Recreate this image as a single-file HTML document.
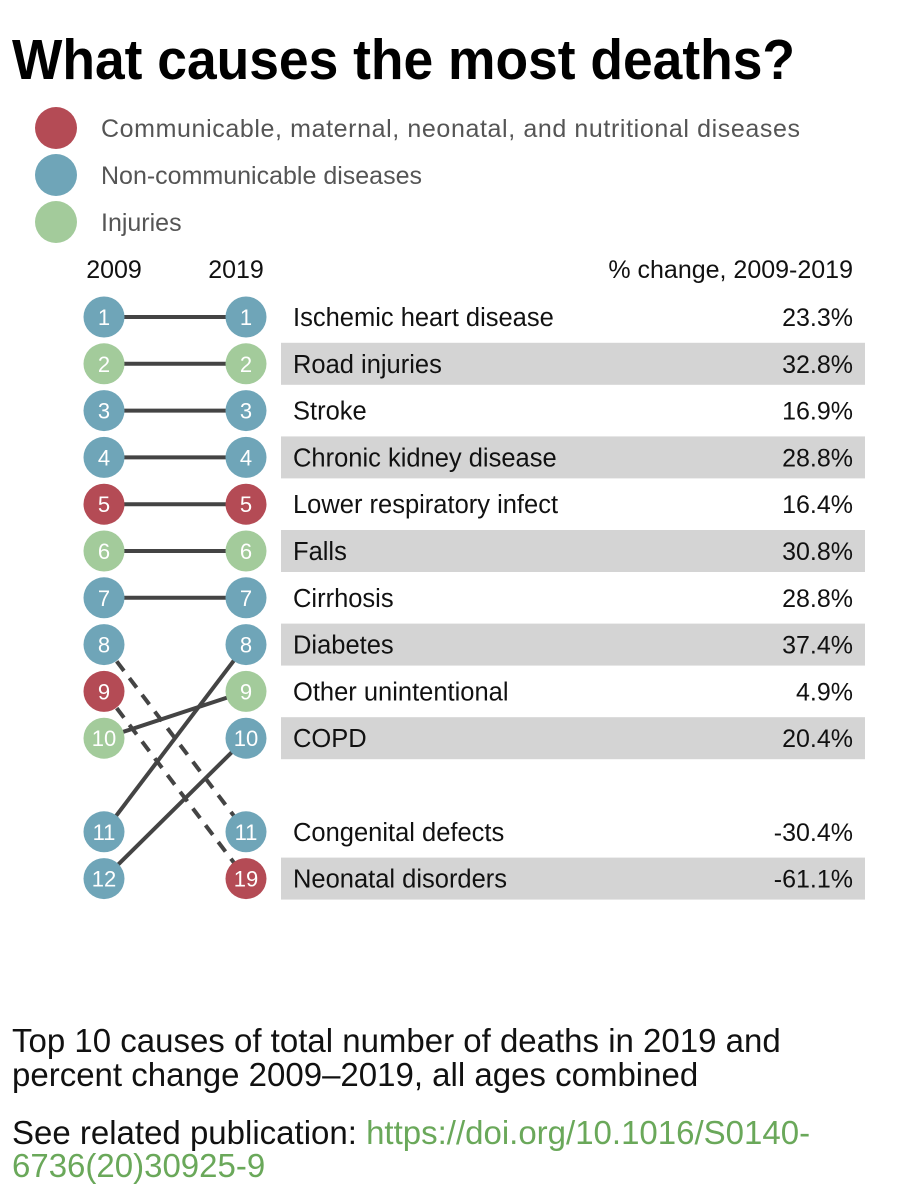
<!DOCTYPE html>
<html><head><meta charset="utf-8"><style>
body{margin:0;background:#fff;}
svg{display:block;font-family:"Liberation Sans",sans-serif;}
</style></head><body>
<svg id="c" width="913" height="1200">
<text x="12" y="79" font-size="57" font-weight="bold" fill="#000" textLength="783" lengthAdjust="spacingAndGlyphs">What causes the most deaths?</text>
<g>
<circle cx="56" cy="128" r="21" fill="#b44b55"/>
<text x="101" y="137" font-size="25" fill="#555" textLength="699">Communicable, maternal, neonatal, and nutritional diseases</text>
<circle cx="56" cy="175" r="21" fill="#6fa5b8"/>
<text x="101" y="184" font-size="25" fill="#555">Non-communicable diseases</text>
<circle cx="56" cy="222" r="21" fill="#a3cb9b"/>
<text x="101" y="231" font-size="25" fill="#555">Injuries</text>
</g>
<text x="114" y="278" font-size="25" fill="#111" text-anchor="middle">2009</text>
<text x="236" y="278" font-size="25" fill="#111" text-anchor="middle">2019</text>
<text x="853" y="278" font-size="25" fill="#111" text-anchor="end">% change, 2009-2019</text>
<g id="bands"></g><g id="lines"></g><g id="marks"></g>
<text x="12" y="1052" font-size="33" fill="#111">Top 10 causes of total number of deaths in 2019 and</text>
<text x="12" y="1086" font-size="33" fill="#111">percent change 2009–2019, all ages combined</text>
<text x="12" y="1144" font-size="33" fill="#111">See related publication: <tspan fill="#6aa85a">https://doi.org/10.1016/S0140-</tspan></text>
<text x="12" y="1177" font-size="33" fill="#6aa85a">6736(20)30925-9</text>
</svg>
<script>
const causes=["Ischemic heart disease","Road injuries","Stroke","Chronic kidney disease","Lower respiratory infect","Falls","Cirrhosis","Diabetes","Other unintentional","COPD","Congenital defects","Neonatal disorders"];
const rank2009=[1,2,3,4,5,6,7,11,10,12,8,9];
const rank2019=[1,2,3,4,5,6,7,8,9,10,11,19];
const category=["n","i","n","n","c","i","n","n","i","n","n","c"];
const pctLabels=["23.3%","32.8%","16.9%","28.8%","16.4%","30.8%","28.8%","37.4%","4.9%","20.4%","-30.4%","-61.1%"];
const colors={c:"#b44b55",n:"#6fa5b8",i:"#a3cb9b"};
const NS="http://www.w3.org/2000/svg";
function slot(r){return r<=10?r-1:(r==11?11:12);}
function y(r){return 317+46.8*slot(r);}
const X09=104,X19=246;
function el(t,a,p){const e=document.createElementNS(NS,t);for(const k in a)e.setAttribute(k,a[k]);document.getElementById(p).appendChild(e);return e;}
causes.forEach((c,i)=>{
 const yy=y(rank2019[i]);
 if(i%2==1){
  const b=el("rect",{x:281,y:yy-21,width:584,height:42,fill:"#d4d4d4"},"bands");
  
  
 }
 const t=el("text",{x:293,y:yy+9,"font-size":25.5,fill:"#111"},"bands");t.textContent=c;
 
 
 const p=el("text",{x:853,y:yy+9,"font-size":25,fill:"#111","text-anchor":"end"},"bands");p.textContent=pctLabels[i];
 
 
 const down=rank2019[i]>rank2009[i];
 const l=el("line",{x1:X09,y1:y(rank2009[i]),x2:X19,y2:yy,stroke:"#444","stroke-width":4,"stroke-dasharray":down?"12,9":"none"},"lines");
 
 
 [[X09,rank2009[i]],[X19,rank2019[i]]].forEach(([x,r])=>{
  const ci=el("circle",{cx:x,cy:y(r),r:20.5,fill:colors[category[i]]},"marks");
  
  
  const n=el("text",{x:x,y:y(r)+8,"font-size":22,fill:"#fff","text-anchor":"middle"},"marks");n.textContent=r;
  
  
 });
});
</script>
</body></html>
